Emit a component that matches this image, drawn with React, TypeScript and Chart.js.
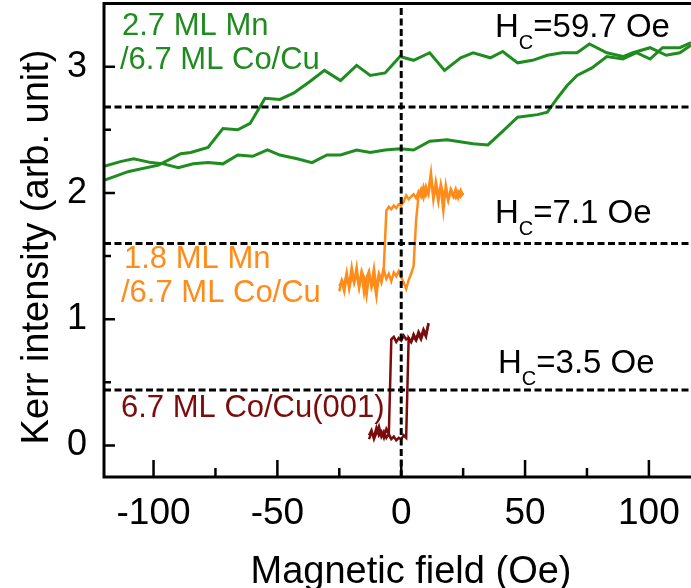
import React, { useEffect, useRef } from 'react';
import { Chart, registerables } from 'chart.js';

Chart.register(...registerables);

const FONT = "'Liberation Sans', Arial, Helvetica, sans-serif";
const GREEN = '#1f8c1f';
const ORANGE = '#ff8c1a';
const DARKRED = '#7a0c0c';

// axis ranges (Oe, arb. unit)
const xRange = [-120, 117];
const yRange = [-0.25, 3.5];
const xMajor = [-100, -50, 0, 50, 100];
const xMinor = [-75, -25, 25, 75];
const yMajor = [0, 1, 2, 3];
const yMinor = [0.5, 1.5, 2.5];

// 2.7 ML Mn / 6.7 ML Co/Cu : descending-field branch
const greenUpperX = [-120, -110, -98, -89, -85, -78, -72, -66, -61, -55, -49, -43.5, -37, -31, -24.5, -18, -12.5, -6.5, -0.5, 5, 11.5, 17.5, 24, 29, 36, 41, 47, 53, 59, 65, 71, 76, 83, 89.5, 93.5, 100.5, 107, 112.5, 117];
const greenUpperY = [2.10, 2.17, 2.22, 2.31, 2.32, 2.36, 2.51, 2.50, 2.55, 2.75, 2.74, 2.79, 2.88, 2.97, 2.89, 3.01, 2.93, 2.95, 3.08, 3.05, 3.11, 2.97, 3.07, 3.11, 3.07, 3.12, 3.03, 3.05, 3.09, 3.11, 3.11, 3.18, 3.11, 3.08, 3.11, 3.15, 3.09, 3.11, 3.17];
// ascending-field branch
const greenLowerX = [-120, -113, -108, -101, -96, -90, -84, -78, -72, -66, -60, -54, -49, -42, -36, -30, -24.5, -18, -12.5, -6.5, -0.5, 5, 11.5, 18.5, 29, 35, 40.5, 47, 55, 59, 63, 67, 71, 77, 83, 89.5, 95, 100.5, 105.5, 112.5, 117];
const greenLowerY = [2.21, 2.25, 2.27, 2.24, 2.23, 2.20, 2.23, 2.24, 2.23, 2.30, 2.29, 2.34, 2.30, 2.27, 2.24, 2.30, 2.30, 2.34, 2.32, 2.34, 2.35, 2.34, 2.41, 2.42, 2.39, 2.38, 2.48, 2.60, 2.62, 2.64, 2.75, 2.85, 2.93, 2.99, 3.08, 3.06, 3.11, 3.06, 3.15, 3.15, 3.19];

// 1.8 ML Mn / 6.7 ML Co/Cu
const orangeX = [-25, -24, -23, -22, -21, -20, -19, -18, -17, -16, -15, -14, -13, -12, -11, -10, -9, -8, -7, -6, -5, -4, -3, -2, -1, 0, 1, 2, 3, 4, 5, 6, 7, 8, 9, 10, 11, 12, 13, 14, 15, 16, 17, 18, 19, 20, 21, 22, 23, 24, 25];
const orangeDownY = [1.26, 1.30, 1.22, 1.34, 1.27, 1.41, 1.29, 1.36, 1.25, 1.38, 1.33, 1.19, 1.35, 1.28, 1.40, 1.24, 1.36, 1.31, 1.42, 1.86, 1.89, 1.87, 1.90, 1.88, 1.91, 1.90, 1.93, 1.98, 1.95, 1.97, 1.99, 1.96, 2.01, 1.97, 2.05, 1.98, 2.02, 2.16, 1.95, 2.09, 1.99, 2.04, 1.86, 2.06, 1.95, 2.01, 1.97, 2.03, 1.96, 2.02, 1.98];
const orangeUpY = [1.22, 1.31, 1.27, 1.37, 1.24, 1.34, 1.29, 1.41, 1.26, 1.36, 1.21, 1.33, 1.38, 1.25, 1.31, 1.18, 1.35, 1.29, 1.39, 1.32, 1.36, 1.30, 1.37, 1.34, 1.38, 1.33, 1.29, 1.24, 1.31, 1.36, 1.42, 1.78, 1.98, 2.03, 1.96, 2.05, 1.99, 2.12, 1.97, 2.04, 1.93, 2.07, 1.98, 2.02, 1.94, 2.03, 1.99, 1.96, 2.01, 1.97, 2.00];

// 6.7 ML Co/Cu(001)
const redX = [-13, -12, -11, -10, -9, -8, -7, -6, -5, -4, -3, -2, -1, 0, 1, 2, 3, 4, 5, 6, 7, 8, 9, 10, 11];
const redDownY = [0.05, 0.10, 0.07, 0.14, 0.08, 0.11, 0.06, 0.13, 0.09, 0.84, 0.86, 0.82, 0.85, 0.83, 0.87, 0.84, 0.85, 0.82, 0.86, 0.83, 0.88, 0.84, 0.90, 0.86, 0.97];
const redUpY = [0.08, 0.12, 0.05, 0.10, 0.15, 0.07, 0.11, 0.06, 0.09, 0.05, 0.07, 0.04, 0.06, 0.05, 0.08, 0.06, 0.85, 0.82, 0.88, 0.84, 0.90, 0.86, 0.92, 0.88, 0.96];

// dashed reference levels and coercive fields
const hcLevels = [2.68, 1.60, 0.44];
const hcValues = ['59.7', '7.1', '3.5'];

const decor = {
  id: 'decor',
  afterDraw(chart: any) {
    const { ctx, chartArea } = chart;
    const { left, right, top, bottom } = chartArea;
    const xs = chart.scales.x;
    const ys = chart.scales.y;
    ctx.save();
    ctx.strokeStyle = '#000';
    ctx.lineCap = 'butt';
    // frame lines
    ctx.lineWidth = 3;
    ctx.beginPath();
    ctx.moveTo(left - 1.5, top);
    ctx.lineTo(right, top);
    ctx.moveTo(left, top);
    ctx.lineTo(left, bottom + 1.5);
    ctx.moveTo(left - 1.5, bottom);
    ctx.lineTo(right, bottom);
    ctx.stroke();
    // inside ticks
    ctx.lineWidth = 2.5;
    ctx.beginPath();
    xMajor.forEach((v) => {
      const p = xs.getPixelForValue(v);
      ctx.moveTo(p, bottom);
      ctx.lineTo(p, bottom - 17);
    });
    xMinor.forEach((v) => {
      const p = xs.getPixelForValue(v);
      ctx.moveTo(p, bottom);
      ctx.lineTo(p, bottom - 9);
    });
    yMajor.forEach((v) => {
      const p = ys.getPixelForValue(v);
      ctx.moveTo(left, p);
      ctx.lineTo(left + 11, p);
    });
    yMinor.forEach((v) => {
      const p = ys.getPixelForValue(v);
      ctx.moveTo(left, p);
      ctx.lineTo(left + 7, p);
    });
    ctx.stroke();

    // axis titles
    ctx.fillStyle = '#000';
    ctx.font = `38px ${FONT}`;
    ctx.textAlign = 'center';
    ctx.textBaseline = 'alphabetic';
    ctx.fillText('Magnetic field (Oe)', 411, 583);
    ctx.save();
    ctx.translate(48, 247);
    ctx.rotate(-Math.PI / 2);
    ctx.fillText('Kerr intensity (arb. unit)', 0, 0);
    ctx.restore();

    // sample labels
    ctx.textAlign = 'left';
    ctx.font = `31px ${FONT}`;
    ctx.fillStyle = GREEN;
    ctx.fillText('2.7 ML Mn', 122, 35);
    ctx.fillText('/6.7 ML Co/Cu', 120, 69);
    ctx.fillStyle = ORANGE;
    ctx.fillText('1.8 ML Mn', 124, 268);
    ctx.fillText('/6.7 ML Co/Cu', 121, 302);
    ctx.fillStyle = DARKRED;
    ctx.fillText('6.7 ML Co/Cu(001)', 121, 417);

    // coercive field labels
    ctx.fillStyle = '#000';
    const hcPos = [[495, 37], [495, 223], [498, 373]];
    hcValues.forEach((val, i) => {
      const [hx, hb] = hcPos[i];
      ctx.font = `33px ${FONT}`;
      ctx.fillText('H', hx, hb);
      const w1 = ctx.measureText('H').width;
      ctx.font = `20px ${FONT}`;
      ctx.fillText('C', hx + w1, hb + 12);
      const w2 = ctx.measureText('C').width;
      ctx.font = `33px ${FONT}`;
      ctx.fillText(`=${val} Oe`, hx + w1 + w2, hb);
    });
    ctx.restore();
  },
};

export default function App() {
  const ref = useRef<HTMLCanvasElement>(null);
  useEffect(() => {
    if (!ref.current) return;
    const pts = (xs: number[], ys: number[]) => xs.map((x, i) => ({ x, y: ys[i] }));
    const dash = (data: { x: number; y: number }[]) => ({
      data,
      borderColor: '#000',
      borderWidth: 3,
      borderDash: [7, 3.5],
      pointRadius: 0,
      order: 0,
    });
    const curve = (data: { x: number; y: number }[], color: string, w: number) => ({
      data,
      borderColor: color,
      borderWidth: w,
      pointRadius: 0,
      tension: 0,
      order: 1,
    });
    const datasets: any[] = [
      ...hcLevels.map((v) => dash([{ x: xRange[0], y: v }, { x: xRange[1], y: v }])),
      dash([{ x: 0, y: yRange[0] }, { x: 0, y: yRange[1] }]),
      curve(pts(greenUpperX, greenUpperY), GREEN, 3),
      curve(pts(greenLowerX, greenLowerY), GREEN, 3),
      curve(pts(orangeX, orangeDownY), ORANGE, 2.5),
      curve(pts(orangeX, orangeUpY), ORANGE, 2.5),
      curve(pts(redX, redDownY), DARKRED, 2.5),
      curve(pts(redX, redUpY), DARKRED, 2.5),
    ];
    const chart = new Chart(ref.current, {
      type: 'line',
      data: { datasets },
      options: {
        animation: false,
        responsive: false,
        devicePixelRatio: 1,
        layout: { padding: { top: 3.5, left: 0, right: 0, bottom: 0 } },
        plugins: { legend: { display: false }, tooltip: { enabled: false } },
        scales: {
          x: {
            type: 'linear',
            min: xRange[0],
            max: xRange[1],
            grid: { display: false },
            border: { display: false },
            ticks: {
              stepSize: 50,
              includeBounds: false,
              autoSkip: false,
              maxRotation: 0,
              padding: 7,
              color: '#000',
              font: { family: FONT, size: 37 },
            },
            afterFit: (s: any) => {
              s.height = 111;
              s.paddingLeft = 0;
              s.paddingRight = 0;
              s.paddingTop = 0;
              s.paddingBottom = 0;
            },
          },
          y: {
            type: 'linear',
            min: yRange[0],
            max: yRange[1],
            grid: { display: false },
            border: { display: false },
            ticks: {
              stepSize: 1,
              includeBounds: false,
              padding: 9,
              color: '#000',
              font: { family: FONT, size: 36 },
            },
            afterFit: (s: any) => {
              s.width = 104;
              s.paddingLeft = 0;
              s.paddingRight = 0;
              s.paddingTop = 0;
              s.paddingBottom = 0;
            },
          },
        },
      },
      plugins: [decor],
    });
    return () => chart.destroy();
  }, []);
  return (
    <div style={{ position: 'fixed', left: 0, top: 0, width: 691, height: 588, background: '#fff' }}>
      <canvas ref={ref} width={691} height={588} style={{ display: 'block' }} />
    </div>
  );
}
